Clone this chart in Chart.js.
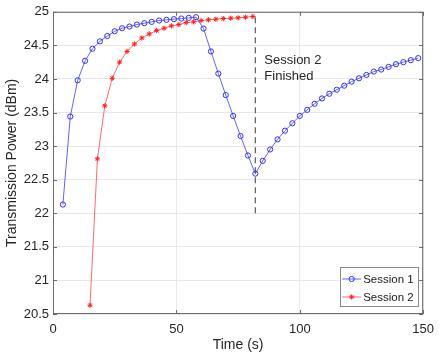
<!DOCTYPE html>
<html>
<head>
<meta charset="utf-8">
<script src="https://cdn.jsdelivr.net/npm/chart.js@4.4.1/dist/chart.umd.min.js"></script>
<style>
  html, body { margin: 0; padding: 0; background: #fff; }
  #wrap { width: 442px; height: 357px; }
</style>
</head>
<body>
<div id="wrap"><canvas id="powerChart"></canvas></div>
<script>
// Session 1: sampled every 3 s from t = 4
const session1Time = [4, 7, 10, 13, 16, 19, 22, 25, 28, 31, 34, 37, 40, 43, 46, 49, 52, 55, 58,
  61, 64, 67, 70, 73, 76, 79, 82,
  85, 88, 91, 94, 97, 100, 103, 106, 109, 112, 115, 118, 121, 124, 127, 130, 133, 136, 139, 142, 145, 148];
const session1Power = [22.13, 23.44, 23.98, 24.27, 24.45, 24.56, 24.64, 24.71, 24.755, 24.78, 24.81, 24.83, 24.85, 24.87, 24.88, 24.89, 24.90, 24.91, 24.92,
  24.75, 24.41, 24.08, 23.76, 23.45, 23.15, 22.86, 22.59,
  22.78, 22.95, 23.10, 23.23, 23.34, 23.45, 23.54, 23.63, 23.71, 23.78, 23.84, 23.90, 23.96, 24.01, 24.06, 24.11, 24.14, 24.18, 24.22, 24.25, 24.28, 24.31];

// Session 2: starts at t = 15, ends at t = 81
const session2Time = [15, 18, 21, 24, 27, 30, 33, 36, 39, 42, 45, 48, 51, 54, 57, 60, 63, 66, 69, 72, 75, 78, 81];
const session2Power = [20.63, 22.81, 23.60, 24.01, 24.25, 24.41, 24.52, 24.61, 24.67, 24.72, 24.755, 24.79, 24.81, 24.84, 24.85, 24.87, 24.88, 24.89, 24.90, 24.905, 24.91, 24.92, 24.93];

// "Session 2 Finished" marker line
const finishTime = [82, 82];
const finishPower = [22.0, 24.93];

const xTicks = [0, 50, 100, 150];
const yTicks = [20.5, 21, 21.5, 22, 22.5, 23, 23.5, 24, 24.5, 25];

const toPoints = (xs, ys) => xs.map((x, i) => ({ x: x, y: ys[i] }));

const FONT = "'Liberation Sans', Arial, Helvetica, sans-serif";
const AXIS_COLOR = '#6b6b6b';

// box, inward ticks, annotation and legend (MATLAB style)
const matlabExtras = {
  id: 'matlabExtras',
  afterDatasetsDraw(chart) {
    const { ctx, chartArea: a, scales } = chart;
    const xs = scales.x, ys = scales.y;
    ctx.save();
    ctx.strokeStyle = AXIS_COLOR;
    ctx.lineWidth = 1;
    ctx.strokeRect(a.left + 0.5, a.top + 0.5, a.right - a.left - 1, a.bottom - a.top - 1);
    ctx.beginPath();
    xTicks.forEach(v => {
      const px = Math.round(xs.getPixelForValue(v)) + 0.5;
      ctx.moveTo(px, a.bottom); ctx.lineTo(px, a.bottom - 4);
      ctx.moveTo(px, a.top); ctx.lineTo(px, a.top + 4);
    });
    yTicks.forEach(v => {
      const py = Math.round(ys.getPixelForValue(v)) + 0.5;
      ctx.moveTo(a.left, py); ctx.lineTo(a.left + 4, py);
      ctx.moveTo(a.right, py); ctx.lineTo(a.right - 4, py);
    });
    ctx.stroke();

    // annotation text
    ctx.fillStyle = '#262626';
    ctx.font = '13px ' + FONT;
    ctx.textAlign = 'left';
    ctx.textBaseline = 'middle';
    const tx = xs.getPixelForValue(finishTime[0]) + 9;
    const ty = ys.getPixelForValue(24.27);
    ctx.fillText('Session 2', tx, ty);
    ctx.fillText('Finished', tx, ty + 15.5);

    // legend box
    const bw = 78, bh = 39;
    const bx = a.right - 5 - bw, by = a.bottom - 8.5 - bh;
    ctx.fillStyle = '#fff';
    ctx.fillRect(bx, by, bw, bh);
    ctx.strokeStyle = '#8a8a8a';
    ctx.strokeRect(Math.round(bx) + 0.5, Math.round(by) + 0.5, bw, bh);
    const rows = [
      { label: 'Session 1', ds: chart.data.datasets[0] },
      { label: 'Session 2', ds: chart.data.datasets[1] }
    ];
    ctx.font = '11.5px ' + FONT;
    rows.forEach((r, i) => {
      const cy = by + 12.5 + i * 18;
      ctx.strokeStyle = r.ds.borderColor;
      ctx.lineWidth = r.ds.borderWidth;
      ctx.beginPath();
      ctx.moveTo(bx + 2, cy); ctx.lineTo(bx + 21, cy);
      ctx.stroke();
      ctx.strokeStyle = r.ds.pointBorderColor;
      ctx.fillStyle = r.ds.pointBackgroundColor;
      Chart.helpers.drawPoint(ctx, {
        pointStyle: r.ds.pointStyle,
        radius: r.ds.pointRadius,
        borderWidth: 1,
        rotation: 0
      }, bx + 11.5, cy);
      ctx.fillStyle = '#1a1a1a';
      ctx.fillText(r.label, bx + 23, cy + 0.5);
    });
    ctx.restore();
  }
};

const ctxPower = document.getElementById('powerChart').getContext('2d');
const powerChart = new Chart(ctxPower, {
  type: 'line',
  data: {
    datasets: [{
      label: 'Session 1',
      data: toPoints(session1Time, session1Power),
      borderColor: 'rgba(70,70,255,0.85)',
      borderWidth: 1,
      pointStyle: 'circle',
      pointRadius: 2.6,
      pointBorderColor: '#2f2fff',
      pointBackgroundColor: 'rgba(0,0,0,0)',
      pointBorderWidth: 1,
      tension: 0
    }, {
      label: 'Session 2',
      data: toPoints(session2Time, session2Power),
      borderColor: 'rgba(255,70,70,0.8)',
      borderWidth: 1,
      pointStyle: 'star',
      pointRadius: 2.6,
      pointBorderColor: '#ff1a1a',
      pointBackgroundColor: '#ff1a1a',
      pointBorderWidth: 1,
      tension: 0
    }, {
      label: 'finish',
      data: toPoints(finishTime, finishPower),
      borderColor: '#666666',
      borderWidth: 1.3,
      borderDash: [6, 4],
      pointRadius: 0,
      tension: 0
    }]
  },
  options: {
    responsive: true,
    maintainAspectRatio: false,
    animation: false,
    layout: { padding: { top: 7, right: 13, left: 0, bottom: 0 } },
    plugins: {
      legend: { display: false },
      tooltip: { enabled: false }
    },
    scales: {
      x: {
        type: 'linear',
        min: 0,
        max: 150,
        afterBuildTicks: s => { s.ticks = xTicks.map(v => ({ value: v })); },
        afterFit: s => { s.height = 43; },
        grid: { color: '#e8e8e8', drawTicks: false },
        border: { display: false },
        ticks: { padding: 8, color: '#262626', font: { family: FONT, size: 13 }, maxRotation: 0 },
        title: {
          display: true,
          text: 'Time (s)',
          color: '#262626',
          font: { family: FONT, size: 14 },
          padding: { top: 0, bottom: 3 }
        }
      },
      y: {
        min: 20.5,
        max: 25,
        afterBuildTicks: s => { s.ticks = yTicks.map(v => ({ value: v })); },
        afterFit: s => { s.width = 53; },
        grid: { color: '#e8e8e8', drawTicks: false },
        border: { display: false },
        ticks: {
          padding: 4,
          color: '#262626',
          font: { family: FONT, size: 13 },
          callback: v => String(v)
        },
        title: {
          display: true,
          text: 'Transmission Power (dBm)',
          color: '#262626',
          font: { family: FONT, size: 14 },
          padding: { top: 4, bottom: 0 }
        }
      }
    }
  },
  plugins: [matlabExtras]
});
</script>
</body>
</html>
